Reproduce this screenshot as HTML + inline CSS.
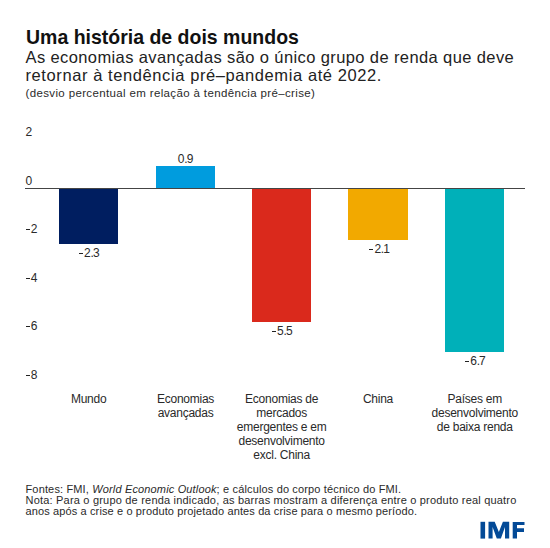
<!DOCTYPE html>
<html><head><meta charset="utf-8">
<style>
html,body{margin:0;padding:0;background:#fff;}
body{width:550px;height:548px;position:relative;overflow:hidden;font-family:"Liberation Sans",sans-serif;color:#1a1a1a;}
.t{position:absolute;white-space:nowrap;}
.bar{position:absolute;}
.mn{display:inline-block;width:4.2px;height:1px;background:#222;margin:0 1.1px 3px 0;vertical-align:baseline;}
</style></head><body>

<div class="t" style="left:26px;top:26.30px;font-size:21px;line-height:21px;letter-spacing:0px;color:#111;font-weight:bold;transform-origin:0 0;transform:scaleX(0.928)">Uma história de dois mundos</div>
<div class="t" style="left:25.5px;top:48.95px;font-size:16.5px;line-height:16.5px;letter-spacing:0.39px;color:#222;font-weight:normal;transform-origin:0 0;transform:scaleX(1)">As economias avançadas são o único grupo de renda que deve</div>
<div class="t" style="left:25.5px;top:66.85px;font-size:16.5px;line-height:16.5px;letter-spacing:0.59px;color:#222;font-weight:normal;transform-origin:0 0;transform:scaleX(1)">retornar à tendência pré–pandemia até 2022.</div>
<div class="t" style="left:25.5px;top:87.95px;font-size:11.5px;line-height:11.5px;letter-spacing:0.36px;color:#2a2a2a;font-weight:normal;transform-origin:0 0;transform:scaleX(1)">(desvio percentual em relação à tendência pré–crise)</div>
<div class="t" style="left:25.5px;top:483.50px;font-size:11px;line-height:11px;letter-spacing:0.15px;color:#2a2a2a;font-weight:normal;transform-origin:0 0;transform:scaleX(1)">Fontes: FMI, <i>World Economic Outlook</i>; e cálculos do corpo técnico do FMI.</div>
<div class="t" style="left:25.5px;top:495.00px;font-size:11px;line-height:11px;letter-spacing:0.2px;color:#2a2a2a;font-weight:normal;transform-origin:0 0;transform:scaleX(1)">Nota: Para o grupo de renda indicado, as barras mostram a diferença entre o produto real quatro</div>
<div class="t" style="left:25.5px;top:506.00px;font-size:11px;line-height:11px;letter-spacing:0.125px;color:#2a2a2a;font-weight:normal;transform-origin:0 0;transform:scaleX(1)">anos após a crise e o produto projetado antes da crise para o mesmo período.</div>
<div class="t" style="left:25.5px;top:126.00px;font-size:12px;line-height:12px;color:#2a2a2a">2</div>
<div class="t" style="left:25.5px;top:174.60px;font-size:12px;line-height:12px;color:#2a2a2a">0</div>
<div class="t" style="left:25.5px;top:223.20px;font-size:12px;line-height:12px;color:#2a2a2a"><span class="mn"></span>2</div>
<div class="t" style="left:25.5px;top:271.80px;font-size:12px;line-height:12px;color:#2a2a2a"><span class="mn"></span>4</div>
<div class="t" style="left:25.5px;top:320.40px;font-size:12px;line-height:12px;color:#2a2a2a"><span class="mn"></span>6</div>
<div class="t" style="left:25.5px;top:369.00px;font-size:12px;line-height:12px;color:#2a2a2a"><span class="mn"></span>8</div>
<div class="bar" style="left:59.0px;width:59.3px;top:188.2px;height:56.10px;background:#001E60"></div>
<div class="bar" style="left:155.9px;width:59.3px;top:166.3px;height:21.90px;background:#009CDE"></div>
<div class="bar" style="left:252.0px;width:59.3px;top:188.2px;height:133.50px;background:#DA291C"></div>
<div class="bar" style="left:348.3px;width:59.3px;top:188.2px;height:51.80px;background:#F2A900"></div>
<div class="bar" style="left:445.1px;width:59.3px;top:188.2px;height:163.60px;background:#00B0B9"></div>
<div class="bar" style="left:25px;width:499.5px;top:187.70px;height:1.2px;background:#444"></div>
<div class="t" style="left:49.15px;width:80px;text-align:center;top:247.40px;font-size:12px;line-height:12px;letter-spacing:-0.2px;color:#2a2a2a"><span class="mn"></span>2<span style="letter-spacing:-0.9px">.</span>3</div>
<div class="t" style="left:145.55px;width:80px;text-align:center;top:152.80px;font-size:12px;line-height:12px;letter-spacing:-0.2px;color:#2a2a2a">0<span style="letter-spacing:-0.9px">.</span>9</div>
<div class="t" style="left:242.15px;width:80px;text-align:center;top:324.80px;font-size:12px;line-height:12px;letter-spacing:-0.2px;color:#2a2a2a"><span class="mn"></span>5<span style="letter-spacing:-0.9px">.</span>5</div>
<div class="t" style="left:339.45px;width:80px;text-align:center;top:243.10px;font-size:12px;line-height:12px;letter-spacing:-0.2px;color:#2a2a2a"><span class="mn"></span>2<span style="letter-spacing:-0.9px">.</span>1</div>
<div class="t" style="left:435.25px;width:80px;text-align:center;top:354.90px;font-size:12px;line-height:12px;letter-spacing:-0.2px;color:#2a2a2a"><span class="mn"></span>6<span style="letter-spacing:-0.9px">.</span>7</div>
<div class="t" style="left:28.65px;width:120px;text-align:center;top:392.05px;font-size:12px;line-height:14.1px;letter-spacing:-0.25px;color:#2a2a2a">Mundo</div>
<div class="t" style="left:125.55px;width:120px;text-align:center;top:392.05px;font-size:12px;line-height:14.1px;letter-spacing:-0.25px;color:#2a2a2a">Economias<br>avançadas</div>
<div class="t" style="left:221.65px;width:120px;text-align:center;top:392.05px;font-size:12px;line-height:14.1px;letter-spacing:-0.25px;color:#2a2a2a">Economias de<br>mercados<br>emergentes e em<br>desenvolvimento<br>excl. China</div>
<div class="t" style="left:317.95px;width:120px;text-align:center;top:392.05px;font-size:12px;line-height:14.1px;letter-spacing:-0.25px;color:#2a2a2a">China</div>
<div class="t" style="left:414.75px;width:120px;text-align:center;top:392.05px;font-size:12px;line-height:14.1px;letter-spacing:-0.25px;color:#2a2a2a">Países em<br>desenvolvimento<br>de baixa renda</div>
<svg style="position:absolute;left:0;top:0" width="550" height="548" viewBox="0 0 550 548">
<g fill="#034A97">
<rect x="480.5" y="521.8" width="4.6" height="16.8"/>
<path d="M488.5 538.6 V521.8 H494.7 L498.85 532 L502.9 521.8 H509.2 V538.6 H505 V527 L500.9 538.6 H496.8 L492.6 527 V538.6 Z"/>
<path d="M512.7 538.6 V521.9 H524.5 V524.9 H517 V528.3 H524 V531.9 H517 V538.6 Z"/>
</g>
</svg>
</body></html>
